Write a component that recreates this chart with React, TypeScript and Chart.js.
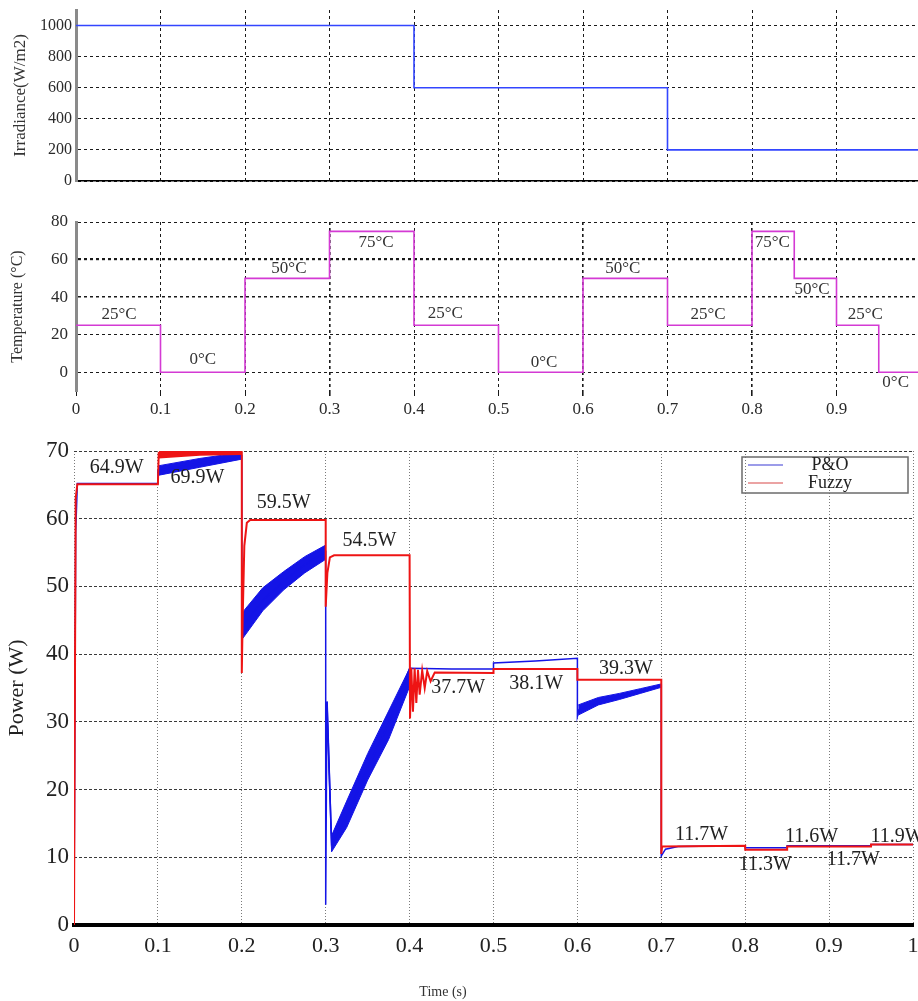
import { useEffect, useRef } from "react";
import { Chart, registerables } from "chart.js";
import type { ChartConfiguration, Plugin } from "chart.js";

Chart.register(...registerables);

const FONT = '"Liberation Serif", "Times New Roman", serif';
const CANVAS_W = 940;

// shared time axis (s)
const timeTicks = [0, 0.1, 0.2, 0.3, 0.4, 0.5, 0.6, 0.7, 0.8, 0.9, 1];

// irradiance profile, each value holds until the next time
const irrTime = [0, 0.4, 0.7, 1];
const irrValue = [1000, 600, 200, 200];
const irrTicks = [0, 200, 400, 600, 800, 1000];

// temperature profile
const tempTime = [0, 0.1, 0.2, 0.3, 0.4, 0.5, 0.6, 0.7, 0.8, 0.85, 0.9, 0.95, 1];
const tempValue = [25, 0, 50, 75, 25, 0, 50, 25, 75, 50, 25, 0, 0];
const tempTicks = [0, 20, 40, 60, 80];
const tempLabelTime = [0.051, 0.15, 0.252, 0.355, 0.437, 0.554, 0.647, 0.748, 0.824, 0.871, 0.934, 0.97];
const tempLabelValue = [30.5, 7, 55, 68.8, 31, 5.4, 55, 30.5, 68.8, 44.3, 30.5, -5.7];
const tempLabelText = ["25°C", "0°C", "50°C", "75°C", "25°C", "0°C", "50°C", "25°C", "75°C", "50°C", "25°C", "0°C"];

// power traces (W)
const seriesNames = ["P&O", "Fuzzy"];
const seriesColors = ["#3a3ad4", "#d84848"];

const poTime = [0, 0.002, 0.004, 0.1, 0.1, 0.15, 0.2, 0.2, 0.201, 0.225, 0.25, 0.275, 0.3, 0.3, 0.3015, 0.307, 0.325, 0.35, 0.375, 0.4, 0.45, 0.5, 0.5, 0.55, 0.6, 0.6, 0.602, 0.625, 0.65, 0.675, 0.7, 0.7, 0.705, 0.72, 0.8, 0.8, 0.85, 0.85, 0.95, 0.95, 1];
const poPower = [0, 58, 65.2, 65.2, 67.1, 68.2, 69.3, 42.3, 44.2, 47.9, 50.8, 53.2, 55.1, 3, 33, 12, 16, 23.2, 29.7, 37.9, 37.8, 37.8, 38.7, 39.0, 39.4, 30.8, 31.8, 33.0, 33.8, 34.5, 35.4, 10.2, 11.2, 11.6, 11.7, 11.4, 11.4, 11.7, 11.7, 11.9, 11.9];

// P&O oscillation band (upper / lower envelope), null separates segments
const poBandTime = [0.1, 0.15, 0.2, null, 0.201, 0.225, 0.25, 0.275, 0.3, null, 0.302, 0.307, 0.325, 0.35, 0.375, 0.4, null, 0.601, 0.625, 0.65, 0.675, 0.7];
const poBandHigh = [67.8, 68.9, 69.8, null, 46.2, 49.8, 52.2, 54.4, 56.1, null, 33, 13.2, 18.3, 25.3, 31.6, 37.9, null, 32.5, 33.6, 34.2, 34.9, 35.6];
const poBandLow = [66.4, 67.6, 68.8, null, 42.3, 46.4, 49.5, 52.0, 54.0, null, 29, 10.8, 14.4, 21.4, 27.4, 35.2, null, 31.0, 32.5, 33.3, 34.2, 35.1];

const fzTime = [0, 0.002, 0.004, 0.1, 0.101, 0.2, 0.2, 0.201, 0.203, 0.206, 0.21, 0.3, 0.3, 0.302, 0.305, 0.31, 0.4, 0.4005, 0.402, 0.404, 0.406, 0.408, 0.41, 0.412, 0.415, 0.418, 0.421, 0.425, 0.43, 0.5, 0.5, 0.6, 0.6, 0.7, 0.7, 0.701, 0.8, 0.8, 0.85, 0.85, 0.95, 0.95, 1];
const fzPower = [0, 63, 65.1, 65.1, 69.7, 69.8, 37.2, 45, 56, 59.4, 59.8, 59.8, 47, 52, 54.3, 54.6, 54.6, 30.5, 38, 31.5, 37.9, 32.8, 37.7, 34, 37.6, 35, 37.5, 36, 37.3, 37.2, 37.8, 37.8, 36.2, 36.2, 10.5, 11.6, 11.7, 11.1, 11.1, 11.6, 11.6, 11.9, 11.9];

const fzBandTime = [0.101, 0.15, 0.2];
const fzBandHigh = [70, 70, 70];
const fzBandLow = [68.9, 69.3, 69.4];

const powerTicks = [0, 10, 20, 30, 40, 50, 60, 70];
const powerLabelTime = [0.051, 0.147, 0.25, 0.352, 0.458, 0.551, 0.658, 0.748, 0.824, 0.879, 0.929, 0.981];
const powerLabelValue = [67.5, 66.1, 62.4, 56.7, 35.1, 35.6, 37.8, 13.3, 8.9, 13.1, 9.6, 13.1];
const powerLabelText = ["64.9W", "69.9W", "59.5W", "54.5W", "37.7W", "38.1W", "39.3W", "11.7W", "11.3W", "11.6W", "11.7W", "11.9W"];

type Pt = { x: number; y: number };
const pts = (xs: number[], ys: number[]): Pt[] => xs.map((x, i) => ({ x, y: ys[i] }));

function bandSegments(ts: (number | null)[], hi: (number | null)[], lo: (number | null)[]) {
  const out: { hi: Pt[]; lo: Pt[] }[] = [];
  let cur = { hi: [] as Pt[], lo: [] as Pt[] };
  ts.forEach((t, i) => {
    if (t === null) {
      if (cur.hi.length) out.push(cur);
      cur = { hi: [], lo: [] };
      return;
    }
    cur.hi.push({ x: t, y: hi[i] as number });
    cur.lo.push({ x: t, y: lo[i] as number });
  });
  if (cur.hi.length) out.push(cur);
  return out;
}

const labelItems = (xs: number[], ys: number[], texts: string[]) =>
  texts.map((text, i) => ({ x: xs[i], y: ys[i], text }));

// text annotations placed in data coordinates
const textLabels: Plugin<"line"> = {
  id: "textLabels",
  afterDatasetsDraw(chart, _args, opts: any) {
    if (!opts || !opts.items) return;
    const { ctx } = chart;
    const xs = chart.scales.x;
    const ys = chart.scales.y;
    ctx.save();
    ctx.font = opts.font;
    ctx.fillStyle = opts.color;
    ctx.textAlign = "center";
    ctx.textBaseline = "middle";
    for (const it of opts.items) {
      ctx.fillText(it.text, xs.getPixelForValue(it.x), ys.getPixelForValue(it.y));
    }
    ctx.restore();
  },
};

// boxed legend inside the plot, top right
const boxLegend: Plugin<"line"> = {
  id: "boxLegend",
  afterDraw(chart) {
    const { ctx, chartArea: a } = chart;
    const left = a.right - 171;
    const top = a.top + 6;
    ctx.save();
    ctx.strokeStyle = "#6b6b6b";
    ctx.lineWidth = 1.5;
    ctx.strokeRect(left, top, 166, 36);
    ctx.font = `18px ${FONT}`;
    ctx.textAlign = "center";
    ctx.textBaseline = "middle";
    seriesNames.forEach((name, i) => {
      const y = top + 8 + i * 18;
      ctx.strokeStyle = seriesColors[i];
      ctx.lineWidth = 1.2;
      ctx.beginPath();
      ctx.moveTo(left + 6, y);
      ctx.lineTo(left + 41, y);
      ctx.stroke();
      ctx.fillStyle = "#222";
      ctx.fillText(name, left + 88, y);
    });
    ctx.restore();
  },
};

const setTicks = (values: number[]) => (s: any) => {
  s.ticks = values.map((v) => ({ value: v }));
};
const fixWidth = (w: number) => (s: any) => {
  s.width = w;
};
const fixHeight = (h: number) => (s: any) => {
  s.height = h;
};
const plain = (v: number | string) => String(v);

function irradianceConfig(): ChartConfiguration<"line"> {
  return {
    type: "line",
    data: {
      datasets: [
        {
          data: pts(irrTime, irrValue),
          stepped: "before",
          borderColor: "#3346ff",
          borderWidth: 1.6,
          pointRadius: 0,
          fill: false,
        },
      ],
    },
    options: {
      responsive: false,
      animation: false,
      layout: { padding: { left: 0, right: CANVAS_W - 921, top: 20, bottom: 14 } },
      plugins: { legend: { display: false }, tooltip: { enabled: false } },
      scales: {
        x: {
          type: "linear",
          min: 0,
          max: 1,
          afterBuildTicks: setTicks(timeTicks),
          afterFit: fixHeight(0),
          ticks: { display: false },
          grid: { color: "#1a1a1a", lineWidth: 1, drawTicks: false },
          border: { color: "#000", width: 1.5, dash: [3, 3] },
        },
        y: {
          min: 0,
          max: 1100,
          afterBuildTicks: setTicks(irrTicks),
          afterFit: fixWidth(76),
          ticks: { callback: plain, font: { family: FONT, size: 16 }, color: "#2a2a2a", padding: 4 },
          grid: { color: "#1a1a1a", lineWidth: 1, drawTicks: false },
          border: { color: "#8a8a8a", width: 3, dash: [3, 3] },
          title: { display: true, text: "Irradiance(W/m2)", font: { family: FONT, size: 17 }, color: "#333", padding: 10 },
        },
      },
    },
  };
}

function temperatureConfig(): ChartConfiguration<"line"> {
  return {
    type: "line",
    data: {
      datasets: [
        {
          data: pts(tempTime, tempValue),
          stepped: "before",
          borderColor: "#d43ad4",
          borderWidth: 1.6,
          pointRadius: 0,
          fill: false,
        },
      ],
    },
    plugins: [textLabels],
    options: {
      responsive: false,
      animation: false,
      layout: { padding: { left: 0, right: CANVAS_W - 921, top: 22, bottom: 0 } },
      plugins: {
        legend: { display: false },
        tooltip: { enabled: false },
        textLabels: {
          items: labelItems(tempLabelTime, tempLabelValue, tempLabelText),
          font: `17px ${FONT}`,
          color: "#333",
        },
      } as any,
      scales: {
        x: {
          type: "linear",
          min: 0,
          max: 1,
          afterBuildTicks: setTicks(timeTicks),
          afterFit: fixHeight(34),
          ticks: { callback: plain, font: { family: FONT, size: 17 }, color: "#2a2a2a", padding: 3, maxRotation: 0 },
          grid: {
            color: "#1a1a1a",
            lineWidth: (c: any) => ([0.3, 0.6, 0.8].includes(c.tick?.value) ? 1.6 : 1),
            drawTicks: true,
            tickLength: 5,
          },
          border: { display: false, dash: [3, 3] },
        },
        y: {
          min: -10,
          max: 80,
          afterBuildTicks: setTicks(tempTicks),
          afterFit: fixWidth(76),
          ticks: { callback: plain, font: { family: FONT, size: 17 }, color: "#2a2a2a", padding: 8 },
          grid: {
            color: "#1a1a1a",
            lineWidth: (c: any) => (c.tick?.value === 60 ? 2.2 : c.tick?.value === 40 ? 1.5 : 1),
            drawTicks: false,
          },
          border: { color: "#8a8a8a", width: 3, dash: [3, 3] },
          title: { display: true, text: "Temperature (°C)", font: { family: FONT, size: 16 }, color: "#333", padding: 8 },
        },
      },
    },
  };
}

function powerConfig(): ChartConfiguration<"line"> {
  const datasets: any[] = [
    {
      label: seriesNames[1],
      data: pts(fzTime, fzPower),
      borderColor: "#ee1414",
      borderWidth: 2,
      pointRadius: 0,
      fill: false,
      order: 0,
    },
  ];
  bandSegments(fzBandTime, fzBandHigh, fzBandLow).forEach((seg) => {
    datasets.push({ data: seg.hi, borderWidth: 0, pointRadius: 0, fill: false, order: 1 });
    datasets.push({ data: seg.lo, borderWidth: 0, pointRadius: 0, fill: "-1", backgroundColor: "#ee1414", order: 1 });
  });
  datasets.push({
    label: seriesNames[0],
    data: pts(poTime, poPower),
    borderColor: "#1414e6",
    borderWidth: 1.5,
    pointRadius: 0,
    fill: false,
    order: 2,
  });
  bandSegments(poBandTime, poBandHigh, poBandLow).forEach((seg) => {
    datasets.push({ data: seg.hi, borderColor: "#1414e6", borderWidth: 1, pointRadius: 0, fill: false, order: 3 });
    datasets.push({ data: seg.lo, borderColor: "#1414e6", borderWidth: 1, pointRadius: 0, fill: "-1", backgroundColor: "#1414e6", order: 3 });
  });

  return {
    type: "line",
    data: { datasets },
    plugins: [textLabels, boxLegend],
    options: {
      responsive: false,
      animation: false,
      layout: { padding: { left: 0, right: CANVAS_W - 913, top: 21, bottom: 0 } },
      plugins: {
        legend: { display: false },
        tooltip: { enabled: false },
        textLabels: {
          items: labelItems(powerLabelTime, powerLabelValue, powerLabelText),
          font: `20px ${FONT}`,
          color: "#222",
        },
      } as any,
      scales: {
        x: {
          type: "linear",
          min: 0,
          max: 1,
          afterBuildTicks: setTicks(timeTicks),
          afterFit: fixHeight(76),
          ticks: { callback: plain, font: { family: FONT, size: 22 }, color: "#222", padding: 8, maxRotation: 0 },
          grid: { color: "#7a7a7a", lineWidth: 1, drawTicks: false },
          border: { color: "#000", width: 4, dash: [1, 2] },
        },
        y: {
          min: 0,
          max: 70,
          afterBuildTicks: setTicks(powerTicks),
          afterFit: fixWidth(74),
          ticks: { callback: plain, font: { family: FONT, size: 23 }, color: "#222", padding: 5 },
          grid: { color: "#3a3a3a", lineWidth: 1, drawTicks: false },
          border: { display: false, dash: [3, 2] },
          title: { display: true, text: "Power (W)", font: { family: FONT, size: 22 }, color: "#222", padding: 4 },
        },
      },
    },
  };
}

function Panel({ top, height, build }: { top: number; height: number; build: () => ChartConfiguration<"line"> }) {
  const ref = useRef<HTMLCanvasElement>(null);
  useEffect(() => {
    if (!ref.current) return;
    const chart = new Chart(ref.current, build());
    return () => chart.destroy();
  }, [build]);
  return (
    <canvas
      ref={ref}
      width={CANVAS_W}
      height={height}
      style={{ position: "absolute", left: 0, top, width: CANVAS_W, height }}
    />
  );
}

export default function App() {
  return (
    <div
      style={{
        position: "fixed",
        left: 0,
        top: 0,
        width: 918,
        height: 1001,
        overflow: "hidden",
        background: "#fff",
      }}
    >
      <Panel top={-10} height={205} build={irradianceConfig} />
      <Panel top={200} height={225} build={temperatureConfig} />
      <Panel top={430} height={571} build={powerConfig} />
      <div
        style={{
          position: "absolute",
          left: 443,
          top: 984,
          transform: "translateX(-50%)",
          font: `14px ${FONT}`,
          color: "#333",
          whiteSpace: "nowrap",
        }}
      >
        Time (s)
      </div>
    </div>
  );
}
